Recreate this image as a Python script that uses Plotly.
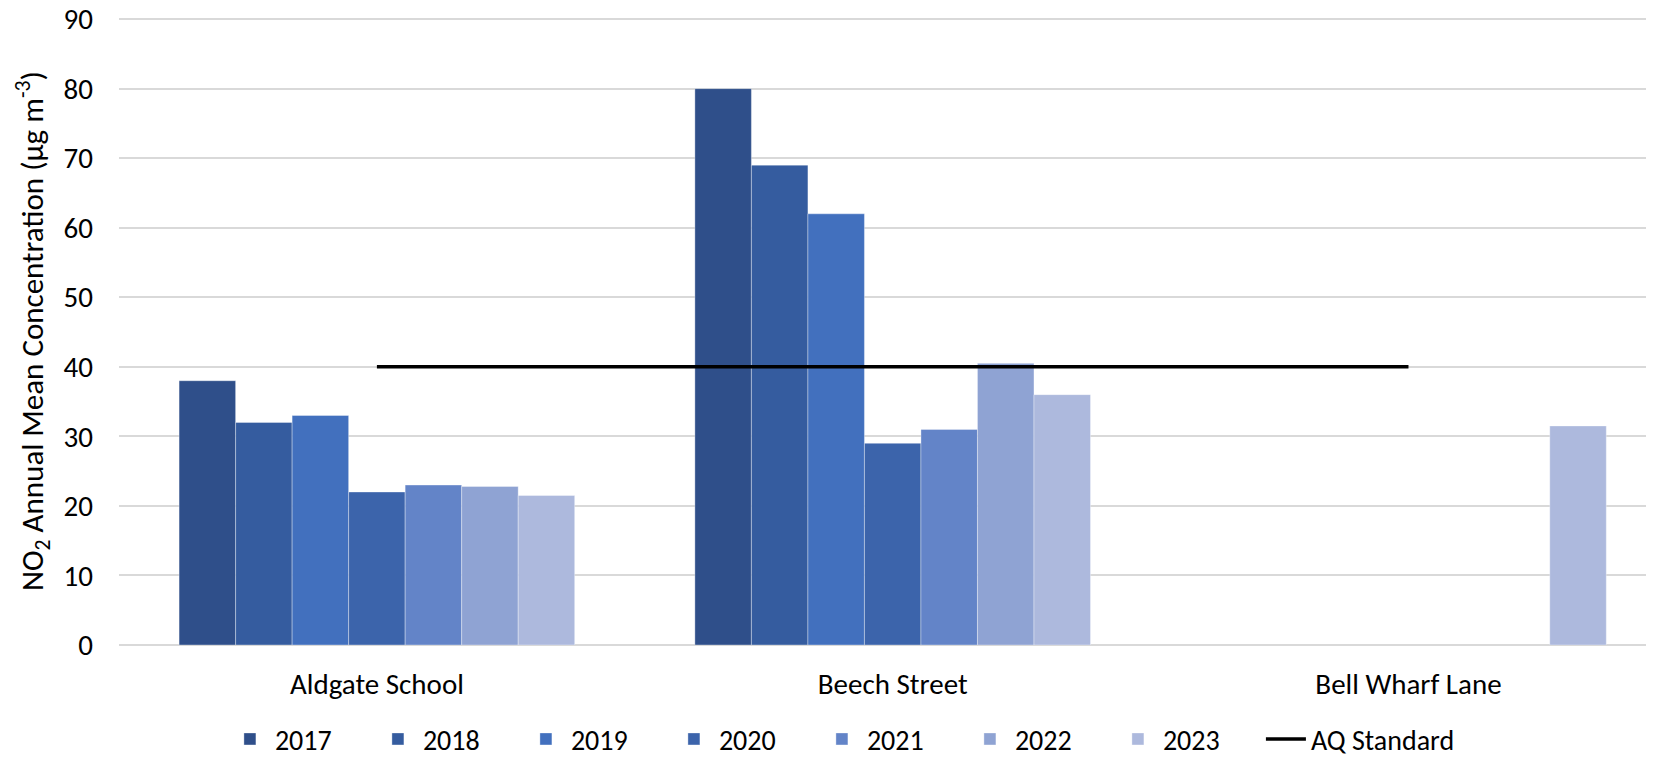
import plotly.graph_objects as go

# Sites and annual mean NO2 (µg/m3) per year; None = no measurement
sites = ["Aldgate School", "Beech Street", "Bell Wharf Lane"]
years = ["2017", "2018", "2019", "2020", "2021", "2022", "2023"]

no2_2017 = [38.0, 80.0, None]
no2_2018 = [32.0, 69.0, None]
no2_2019 = [33.0, 62.0, None]
no2_2020 = [22.0, 29.0, None]
no2_2021 = [23.0, 31.0, None]
no2_2022 = [22.8, 40.5, None]
no2_2023 = [21.5, 36.0, 31.5]

aq_standard = [40, 40, 40]

series = [no2_2017, no2_2018, no2_2019, no2_2020, no2_2021, no2_2022, no2_2023]
colors = ["#2F4F8A", "#355C9F", "#4270BE", "#3C64AB", "#6384C8", "#8FA3D3", "#ADB9DD"]

FONT = "Calibri, Carlito, Lato, sans-serif"

fig = go.Figure()
for year, vals, col in zip(years, series, colors):
    fig.add_trace(
        go.Bar(
            x=sites,
            y=vals,
            name=year,
            marker=dict(color=col, line=dict(color="rgba(255,255,255,0.35)", width=1)),
        )
    )

fig.add_trace(
    go.Scatter(
        x=sites,
        y=aq_standard,
        mode="lines",
        name="AQ Standard",
        line=dict(color="black", width=3.5),
    )
)

# empty legend slot so the last entry's text is not clipped by entrywidth
fig.add_trace(
    go.Scatter(
        x=[None],
        y=[None],
        mode="lines",
        name="",
        line=dict(color="rgba(0,0,0,0)", width=0),
        hoverinfo="skip",
    )
)

# the page body adds an 8px offset, so the figure is 8px smaller
fig.update_layout(
    width=1646,
    height=750,
    margin=dict(l=111, r=0, t=9, b=113),
    plot_bgcolor="white",
    paper_bgcolor="white",
    barmode="group",
    bargap=0.233,
    bargroupgap=0,
    font=dict(family=FONT, size=28, color="black"),
    legend=dict(
        orientation="h",
        x=0.069,
        xanchor="left",
        yref="container",
        y=0.025,
        yanchor="middle",
        font=dict(size=28),
        itemwidth=40,
        entrywidth=93,
        tracegroupgap=0,
    ),
)

fig.update_xaxes(
    range=[-0.5, 2.476],
    automargin=False,
    showgrid=False,
    showline=False,
    ticks="",
    ticklabelstandoff=19,
    tickfont=dict(size=29),
)
# range a little past 90 so the top gridline is not clipped at the edge
fig.update_yaxes(
    range=[0, 90.3],
    tickvals=[0, 10, 20, 30, 40, 50, 60, 70, 80, 90],
    ticklabeloverflow="allow",
    automargin=False,
    showgrid=True,
    gridcolor="#D9D9D9",
    gridwidth=1.5,
    zeroline=True,
    zerolinecolor="#D9D9D9",
    zerolinewidth=1.5,
    showline=False,
    ticks="",
    ticklabelstandoff=25,
    tickfont=dict(size=29),
    title=dict(
        text="NO<sub>2</sub> Annual Mean Concentration (µg m<sup>-3</sup>)",
        font=dict(size=31),
        standoff=10,
    ),
)

fig.write_html("out.html")
